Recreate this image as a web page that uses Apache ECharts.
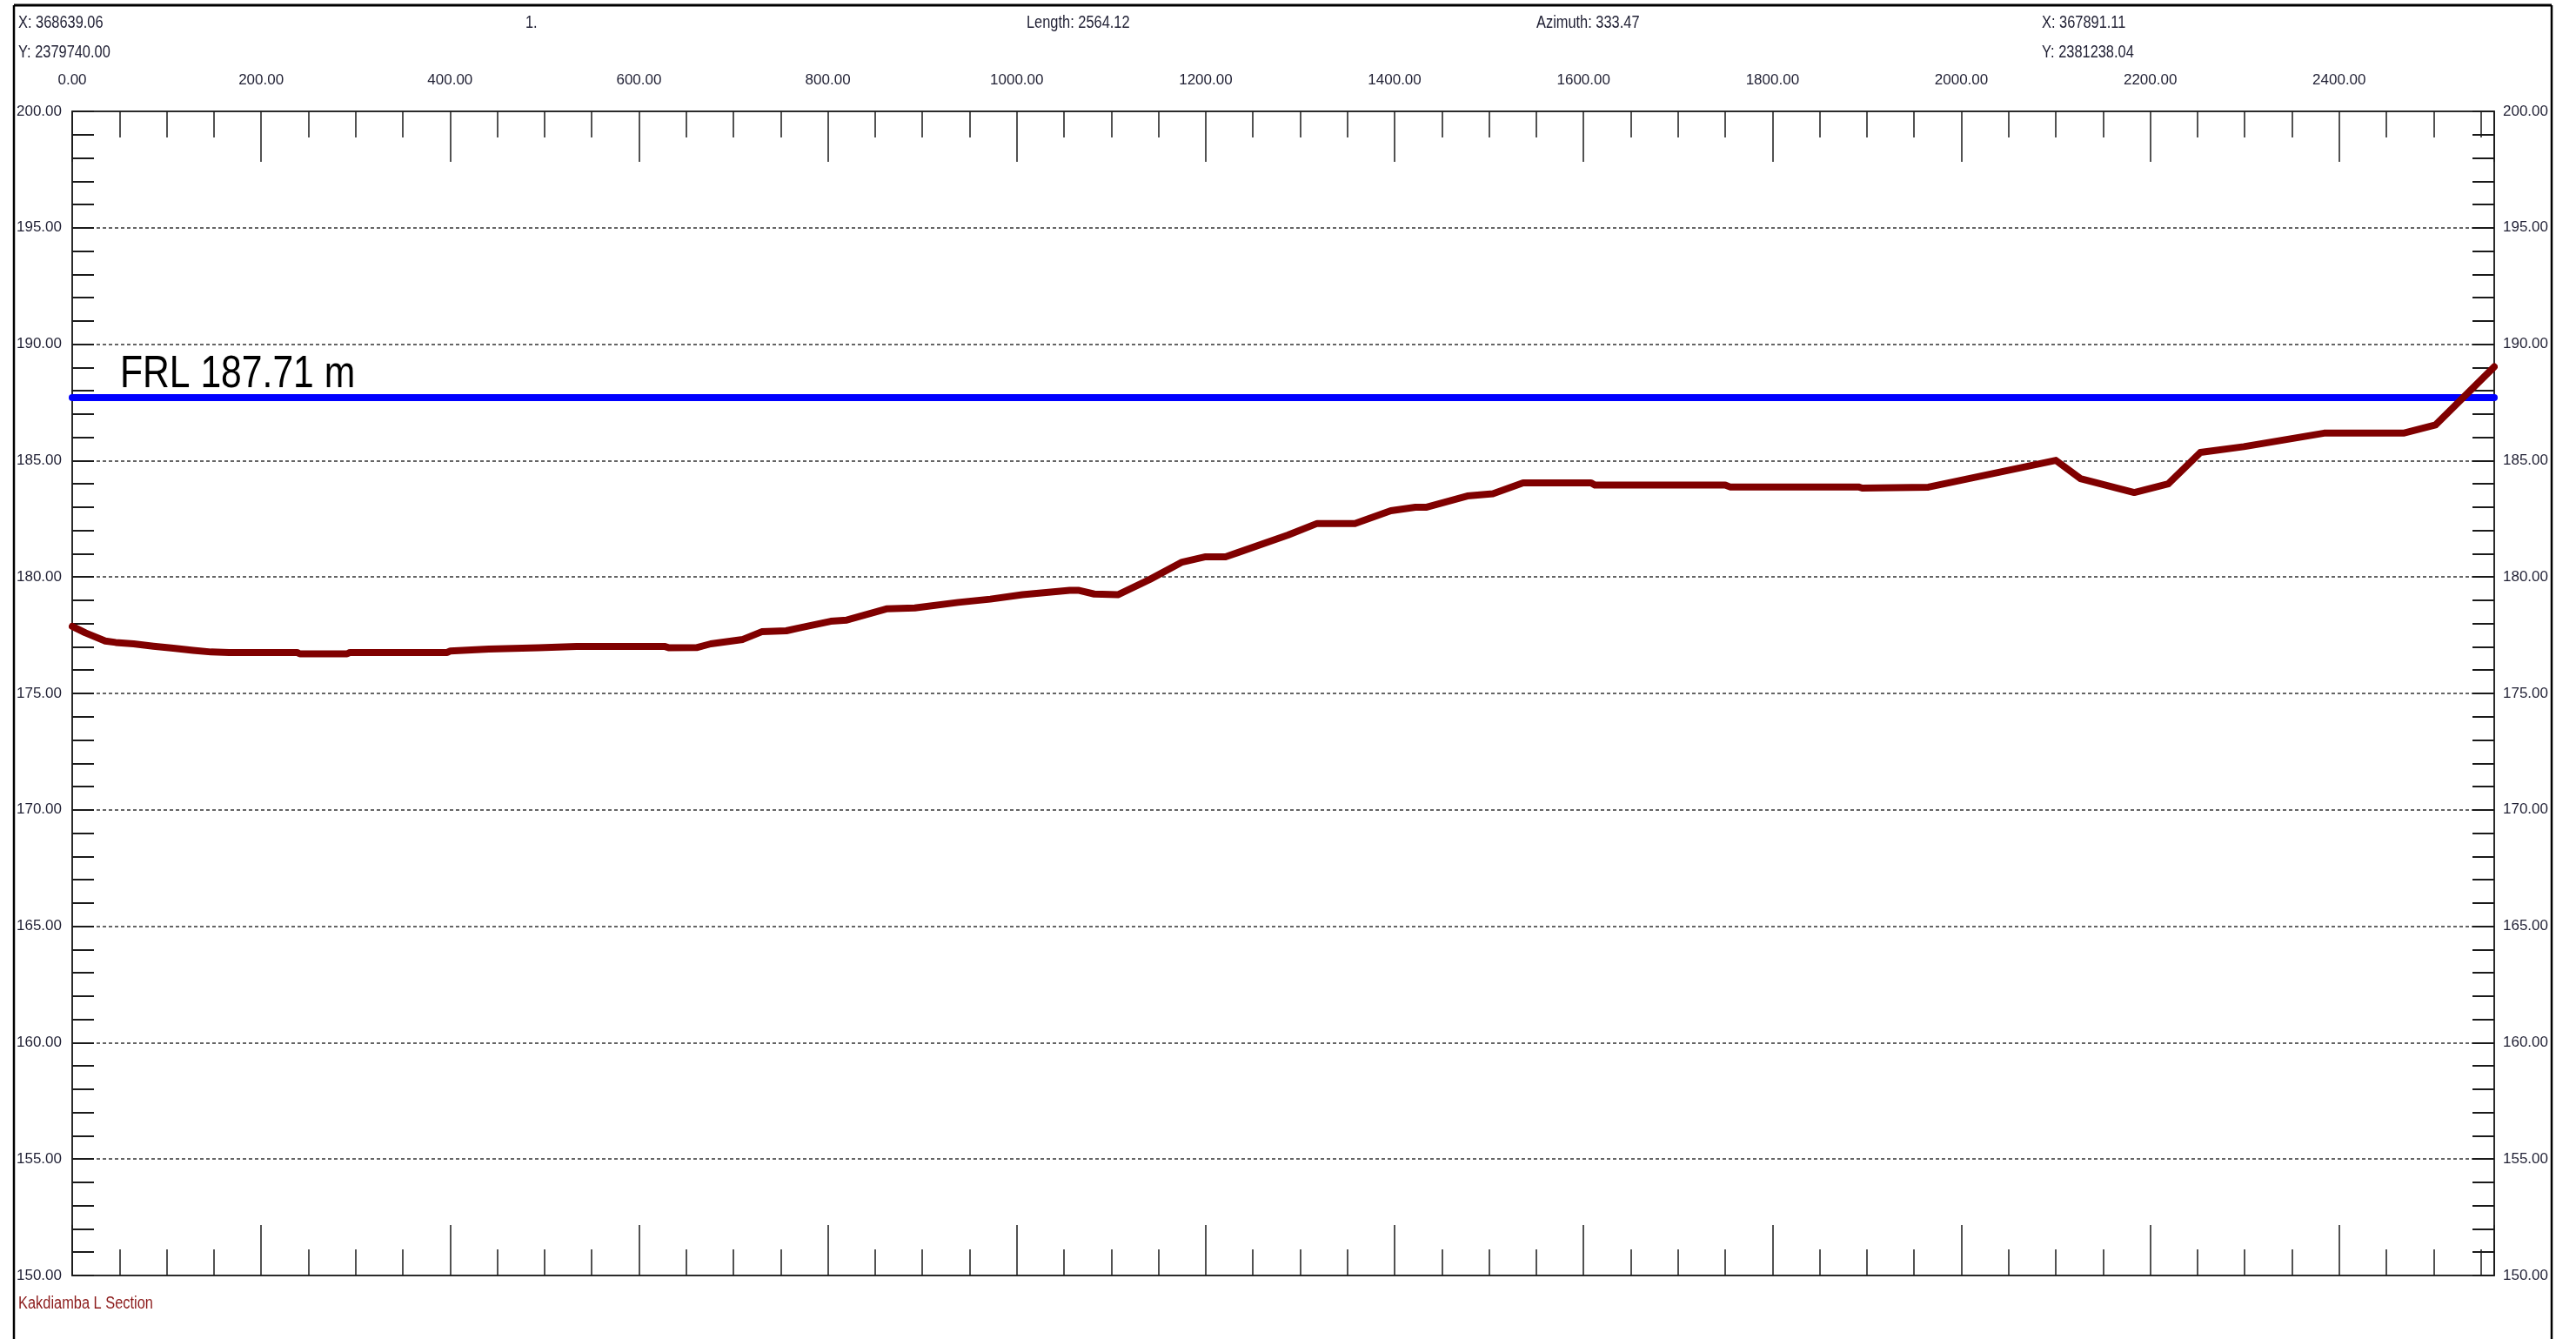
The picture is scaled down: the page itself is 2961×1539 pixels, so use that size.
<!DOCTYPE html>
<html>
<head>
<meta charset="utf-8">
<script src="https://cdn.jsdelivr.net/npm/echarts@6/dist/echarts.min.js"></script>
<style>
html,body{margin:0;padding:0;background:#fff;}
#chart{width:2961px;height:1539px;}
</style>
</head>
<body>
<div id="chart"></div>
<script>
// ---- data ----
const distance = [0, 14, 35, 46, 65, 86, 107, 128, 147, 166, 238, 241, 291, 294, 397, 400, 441, 494, 534, 627, 632, 661,
  676, 710, 730, 756, 769, 803, 820, 862, 892, 938, 972, 1006, 1056, 1065, 1082, 1107, 1141, 1175, 1200, 1221,
  1234, 1287, 1318, 1358, 1396, 1422, 1434, 1477, 1504, 1536, 1608, 1612, 1750, 1755, 1891, 1895, 1965,
  2100, 2126, 2183, 2219, 2253, 2299, 2384, 2468, 2502, 2564.12];
const elevation = [177.88, 177.60, 177.25, 177.19, 177.13, 177.03, 176.94, 176.85, 176.78, 176.76, 176.76, 176.70, 176.70, 176.76, 176.76, 176.82, 176.91, 176.96, 177.02, 177.02, 176.96, 176.97,
  177.13, 177.32, 177.65, 177.69, 177.81, 178.10, 178.15, 178.63, 178.67, 178.91, 179.05, 179.24, 179.43, 179.43, 179.27, 179.24, 179.90, 180.64, 180.87, 180.87,
  181.05, 181.80, 182.30, 182.30, 182.85, 183.00, 183.00, 183.48, 183.58, 184.04, 184.04, 183.95, 183.95, 183.87, 183.87, 183.82, 183.86,
  185.01, 184.23, 183.63, 184.00, 185.35, 185.60, 186.18, 186.18, 186.53, 189.03];
const frlDistance = [0, 2564.12];
const frlLevel = [187.71, 187.71];
const frlLabel = 'FRL 187.71 m';
const sectionLength = 2564.12;
const yMin = 150, yMax = 200, yStep = 5, xStep = 200;
const headerLeft = ['X: 368639.06', 'Y: 2379740.00'];
const headerMid = ['1.', 'Length: 2564.12', 'Azimuth: 333.47'];
const headerRight = ['X: 367891.11', 'Y: 2381238.04'];
const footerTitle = 'Kakdiamba L Section';

// ---- styles ----
const FONT = "'Liberation Sans',Arial,sans-serif";
const LABEL_COLOR = '#1f1f33';
const AXIS_COLOR = '#2b2b2b';
const fmt = v => Number(v).toFixed(2);

const chart = echarts.init(document.getElementById('chart'), null, {renderer: 'canvas'});

function xAxisCfg(pos, showLabel) {
  return {
    type: 'value', position: pos, min: 0, max: sectionLength, interval: xStep,
    axisLine: {show: true, onZero: false, lineStyle: {color: AXIS_COLOR, width: 2}},
    axisTick: {show: true, inside: true, length: 58, lineStyle: {color: '#1a1a1a', width: 1.5}},
    minorTick: {show: true, splitNumber: 4, length: 30, lineStyle: {color: '#1a1a1a', width: 1.5}},
    splitLine: {show: false},
    axisLabel: {show: showLabel, margin: 27, formatter: fmt, showMaxLabel: false,
      fontFamily: FONT, fontSize: 17, color: LABEL_COLOR}
  };
}
function yAxisCfg(pos, grid) {
  return {
    type: 'value', position: pos, min: yMin, max: yMax, interval: yStep,
    axisLine: {show: true, onZero: false, lineStyle: {color: AXIS_COLOR, width: 2}},
    axisTick: {show: true, inside: true, length: 25, lineStyle: {color: '#1a1a1a', width: 2}},
    minorTick: {show: true, splitNumber: 5, length: 25, lineStyle: {color: '#1a1a1a', width: 2}},
    splitLine: {show: grid, lineStyle: {color: '#333', width: 1.5, type: [4, 3]}},
    axisLabel: {show: true, margin: pos === 'left' ? 12 : 10, formatter: fmt,
      fontFamily: FONT, fontSize: 17, color: LABEL_COLOR}
  };
}

const NARROW = 0.82;
const textEl = (txt, x, y, color, size) => ({
  type: 'text', x: x, y: y, scaleX: NARROW, silent: true,
  style: {text: txt, fill: color || LABEL_COLOR, font: (size || 20) + 'px ' + FONT,
    textAlign: 'left', textVerticalAlign: 'middle'}
});

const graphics = [
  {type: 'line', shape: {x1: 16, y1: 6, x2: 2933, y2: 6}, style: {stroke: '#000', lineWidth: 3}},
  {type: 'line', shape: {x1: 16, y1: 6, x2: 16, y2: 1539}, style: {stroke: '#000', lineWidth: 2.5}},
  {type: 'line', shape: {x1: 2933, y1: 6, x2: 2933, y2: 1539}, style: {stroke: '#000', lineWidth: 2.5}},
  textEl(headerLeft[0], 21, 26),
  textEl(headerLeft[1], 21, 60),
  textEl(headerMid[0], 604, 26),
  textEl(headerMid[1], 1180, 26),
  textEl(headerMid[2], 1766, 26),
  textEl(headerRight[0], 2347, 26),
  textEl(headerRight[1], 2347, 60),
  textEl(footerTitle, 21, 1498, '#8b1a1a')
];

chart.setOption({
  animation: false,
  backgroundColor: '#fff',
  grid: {left: 83, right: 94, top: 128, bottom: 73, containLabel: false},
  xAxis: [xAxisCfg('bottom', false), xAxisCfg('top', true)],
  yAxis: [yAxisCfg('left', true), yAxisCfg('right', false)],
  series: [
    {
      name: 'FRL', type: 'line', xAxisIndex: 0, yAxisIndex: 0,
      data: frlDistance.map((d, i) => [d, frlLevel[i]]),
      symbol: 'none', z: 3,
      lineStyle: {color: '#0000ff', width: 8, cap: 'round'}
    },
    {
      name: 'Ground', type: 'line', xAxisIndex: 0, yAxisIndex: 0,
      data: distance.map((d, i) => [d, elevation[i]]),
      symbol: 'none', z: 4,
      lineStyle: {color: '#800000', width: 8, cap: 'round', join: 'round'}
    }
  ],
  graphic: graphics
});

// FRL label placed relative to the FRL line through the axes
const p = chart.convertToPixel({xAxisIndex: 0, yAxisIndex: 0}, [frlDistance[0], frlLevel[0]]);
graphics.push({
  type: 'text', x: p[0] + 55, y: p[1] - 26, scaleX: NARROW, silent: true,
  style: {text: frlLabel, fill: '#000', font: '52px ' + FONT, textAlign: 'left', textVerticalAlign: 'middle'}
});
chart.setOption({graphic: graphics});
</script>
</body>
</html>
